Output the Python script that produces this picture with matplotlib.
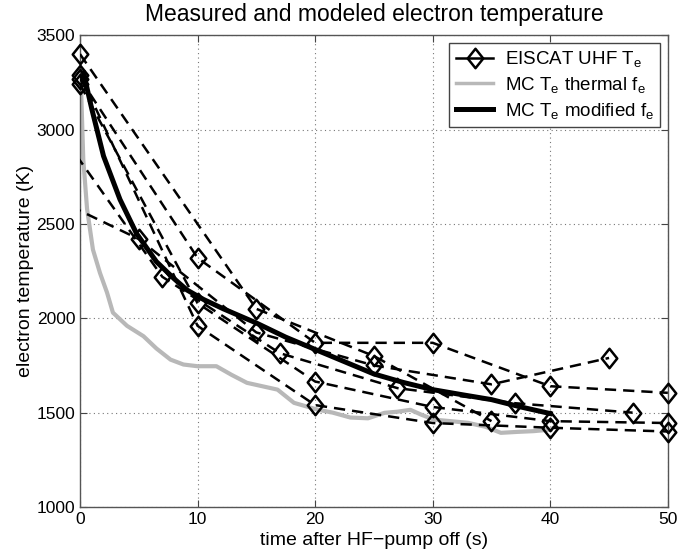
import matplotlib
matplotlib.use("Agg")
import matplotlib.pyplot as plt
from matplotlib.path import Path
from matplotlib.lines import Line2D
import numpy as np

plt.rcParams['font.family'] = ['Liberation Sans', 'DejaVu Sans']
plt.rcParams['mathtext.fontset'] = 'custom'
plt.rcParams['mathtext.rm'] = 'Liberation Sans'
plt.rcParams['mathtext.it'] = 'Liberation Sans'

# ---- EISCAT UHF measured Te series (time s, Te K) ----
s1_t = [0, 10, 20, 30, 40, 50]
s1_T = [3270, 2320, 1870, 1870, 1640, 1605]
s2_t = [0, 10, 20, 30, 40, 50]
s2_T = [3240, 2080, 1665, 1530, 1455, 1445]
s3_t = [0, 10, 20, 30, 40, 50]
s3_T = [3290, 1960, 1540, 1445, 1420, 1400]
s4_t = [-5, 5, 15, 25, 35, 45]
s4_T = [2720, 2420, 1925, 1750, 1650, 1790]
s5_t = [-3, 7, 17, 27, 37, 47]
s5_T = [3100, 2220, 1815, 1630, 1550, 1500]
s6_t = [0, 15, 25, 35]
s6_T = [3400, 2050, 1800, 1455]
eiscat = [(s1_t, s1_T), (s2_t, s2_T), (s3_t, s3_T),
          (s4_t, s4_T), (s5_t, s5_T), (s6_t, s6_T)]

# ---- MC model, thermal f_e ----
thermal_t = [0.05, 0.28, 0.6, 1.1, 1.7, 2.3, 2.8, 4.0, 5.4, 6.5, 7.7, 8.8, 10.0,
             11.6, 12.9, 14.2, 15.5, 16.8, 18.2, 20.2, 21.5, 23.0, 24.5, 25.9,
             27.0, 28.1, 29.0, 30.1, 31.5, 33.0, 34.5, 35.8, 37.2, 38.6, 40.0]
thermal_T = [3300, 2840, 2580, 2364, 2240, 2136, 2030, 1960, 1905, 1840, 1781,
             1755, 1746, 1746, 1700, 1658, 1640, 1622, 1552, 1516, 1500, 1474,
             1470, 1499, 1505, 1515, 1490, 1463, 1455, 1446, 1425, 1393, 1398,
             1402, 1410]

# ---- MC model, modified f_e ----
mod_t = [0.3, 1.0, 2.0, 3.4, 4.8, 6.5, 8.0, 9.1, 10.5, 12.2, 15.0, 17.5, 20.0,
         22.5, 25.0, 27.5, 30.0, 32.5, 35.0, 37.5, 40.0]
mod_T = [3300, 3110, 2860, 2630, 2450, 2300, 2210, 2150, 2100, 2050, 1975,
         1900, 1835, 1770, 1705, 1660, 1622, 1595, 1569, 1530, 1495]

title = "Measured and modeled electron temperature"
xlabel = "time after HF\u2212pump off (s)"
ylabel = "electron temperature (K)"
xticks = [0, 10, 20, 30, 40, 50]
yticks = [1000, 1500, 2000, 2500, 3000, 3500]
leg_labels = ["EISCAT UHF T$_\\mathregular{e}$",
              "MC T$_\\mathregular{e}$ thermal f$_\\mathregular{e}$",
              "MC T$_\\mathregular{e}$ modified f$_\\mathregular{e}$"]

fig = plt.figure(figsize=(6.78, 5.55), dpi=100)
ax = fig.add_axes([0.118, 0.0865, 0.867, 0.85])

diamond = Path([(0, 1), (0.8, 0), (0, -1), (-0.8, 0), (0, 1)],
               [Path.MOVETO, Path.LINETO, Path.LINETO, Path.LINETO, Path.CLOSEPOLY])
dash = (0, (4.5, 2.8))

ax.plot(thermal_t, thermal_T, color='#b8b8b8', lw=3.0, zorder=2)
ax.plot(mod_t, mod_T, color='black', lw=3.6, zorder=3)

for t, T in eiscat:
    ax.plot(t, T, color='black', lw=1.8, ls=dash, zorder=4)
    tv = [a for a in t if 0 <= a <= 50]
    Tv = [b for a, b in zip(t, T) if 0 <= a <= 50]
    ax.plot(tv, Tv, ls='none', marker=diamond, ms=14, mfc='none', mec='black',
            mew=1.8, clip_on=False, zorder=5)

ax.set_xlim(0, 50)
ax.set_ylim(1000, 3500)
ax.set_xticks(xticks)
ax.set_yticks(yticks)
ax.tick_params(direction='in', top=True, right=True, labelsize=12.5,
               length=5, color='#444444')
ax.grid(True, ls=(0, (1, 3)), color='#777777', lw=0.8)
for sp in ax.spines.values():
    sp.set_color('#555555')
    sp.set_linewidth(1.0)

ax.set_title(title, fontsize=16.5, pad=10)
ax.set_xlabel(xlabel, fontsize=14, labelpad=4)
ax.set_ylabel(ylabel, fontsize=14, labelpad=2)

handles = [Line2D([], [], color='black', lw=1.8, marker=diamond, ms=14,
                  mfc='none', mec='black', mew=1.8),
           Line2D([], [], color='#b8b8b8', lw=2.5),
           Line2D([], [], color='black', lw=3.6)]
leg = ax.legend(handles, leg_labels, loc='upper right', fontsize=13.5,
                fancybox=False, framealpha=1, edgecolor='#444444',
                borderaxespad=0.4, handlelength=2.0, labelspacing=0.3,
                borderpad=0.35, handletextpad=0.6)
leg.get_frame().set_linewidth(1.0)

fig.savefig("out.png", dpi=100)
